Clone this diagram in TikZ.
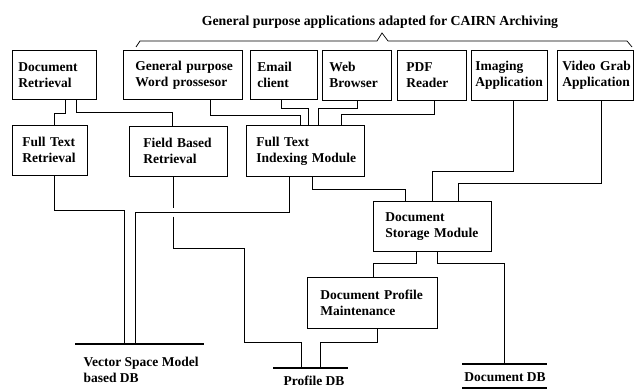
\documentclass[tikz,border=0pt]{standalone}
\usepackage{fontspec}
\setmainfont{Liberation Serif}
\usepackage{tikz}

\begin{document}
\begin{tikzpicture}[x=1pt,y=-1pt,
  box/.style={draw,line width=0.7pt,anchor=north west,align=left,
    font=\fontsize{13.5}{16}\selectfont\bfseries},
  wire/.style={line width=0.7pt},
  bar/.style={line width=1.6pt},
  dbtext/.style={font=\fontsize{13.5}{16}\selectfont\bfseries,align=left}]
\useasboundingbox (0,0) rectangle (634,390);
% title and brace
\node[font=\fontsize{13.8}{16}\selectfont\bfseries] (title) at (380,22) {General purpose applications adapted for CAIRN Archiving};
\draw[wire] (136,47)--(140,41)--(377,41)--(382,33)--(388,41)--(627,41)--(632,47);
% top row
\node[box,minimum width=84,minimum height=49,inner xsep=6,text width=72] (dr) at (12,50) {Document\\Retrieval};
\node[box,minimum width=119,minimum height=49,inner xsep=12,text width=95] (wp) at (123,50) {\mbox{General purpose}\\\mbox{Word prossesor}};
\node[box,minimum width=67,minimum height=49,inner xsep=7,text width=53] (ec) at (250,50) {Email\\client};
\node[box,minimum width=69,minimum height=50,inner xsep=7,text width=55] (wb) at (322,50) {Web\\Browser};
\node[box,minimum width=69,minimum height=50,inner xsep=9,text width=51] (pdf) at (397,50) {PDF\\Reader};
\node[box,minimum width=76,minimum height=50,inner xsep=4,text width=68] (img) at (471,50) {Imaging\\Application};
\node[box,minimum width=76,minimum height=50,inner xsep=5,text width=66] (vg) at (557,50) {\mbox{Video Grab}\\Application};
% second row
\node[box,minimum width=75,minimum height=50,inner xsep=10,text width=55] (ftr) at (12,125) {\mbox{Full Text}\\Retrieval};
\node[box,minimum width=98,minimum height=50,inner xsep=14,text width=70] (fbr) at (129,126) {\mbox{Field Based}\\Retrieval};
\node[box,minimum width=118,minimum height=51,inner xsep=10,text width=98] (ftim) at (246,125) {\mbox{Full Text}\\\mbox{Indexing Module}};
\node[box,minimum width=118,minimum height=50,inner xsep=12,text width=94] (dsm) at (373,201) {Document\\\mbox{Storage Module}};
\node[box,minimum width=130,minimum height=51,inner xsep=13,text width=104] (dpm) at (307,277) {\mbox{Document Profile}\\Maintenance};
% databases
\coordinate (vdbL) at (75,344);
\coordinate (vdbR) at (204,344);
\coordinate (pdbL) at (273,368);
\coordinate (pdbR) at (348,368);
\coordinate (ddbL) at (462,364);
\coordinate (ddbR) at (547,364);
\draw[bar] (vdbL)--(vdbR);
\draw[bar] (pdbL)--(pdbR);
\draw[bar] (ddbL)--(ddbR);
\draw[bar] ([yshift=-24pt]ddbL)--([yshift=-24pt]ddbR);
\node[dbtext,anchor=west] (vdb) at (80,370) {Vector Space Model\\based DB};
\node[dbtext] (pdb) at (314,381) {Profile DB};
\node[dbtext] (ddb) at (505,377) {Document DB};
% connectors
\draw[wire] ([xshift=53]dr.south west) -- ++(0,14) -| ([xshift=42]ftr.north west);
\draw[wire] ([xshift=64]dr.south west) -- ++(0,13) -| ([xshift=43]fbr.north west);
\draw[wire] ([xshift=87]wp.south west) -- ++(0,16) -| ([xshift=54]ftim.north west);
\draw[wire] ([xshift=31]ec.south west) -- ++(0,9) -| ([xshift=62]ftim.north west);
\draw[wire] ([xshift=35]wb.south west) -- ++(0,8) -| ([xshift=72]ftim.north west);
\draw[wire] ([xshift=37]pdf.south west) -- ++(0,14) -| ([xshift=95]ftim.north west);
\draw[wire] ([xshift=42]img.south west) -- ++(0,71) -| ([xshift=59]dsm.north west);
\draw[wire] ([xshift=44]vg.south west) -- ++(0,83) -| ([xshift=85]dsm.north west);
\draw[wire] ([xshift=66]ftim.south west) -- ++(0,13) -| ([xshift=32]dsm.north west);
\draw[wire] ([xshift=42]ftr.south west) -- ++(0,35) -| ([xshift=49]vdbL);
\draw[wire] ([xshift=43]ftim.south west) -- ++(0,36) -| ([xshift=60]vdbL);
\draw[wire] ([xshift=44]fbr.south west) -- ++(0,31) ++(0,9) -- ++(0,32) -- ++(71,0) -- ++(0,94) -| ([xshift=28]pdbL);
\draw[wire] ([xshift=70]dpm.south west) -- ++(0,14) -| ([xshift=47]pdbL);
\draw[wire] ([xshift=43]dsm.south west) -- ++(0,12) -| ([xshift=66]dpm.north west);
\draw[wire] ([xshift=64]dsm.south west) -- ++(0,12) -| ([xshift=42]ddbL);
\end{tikzpicture}
\end{document}
